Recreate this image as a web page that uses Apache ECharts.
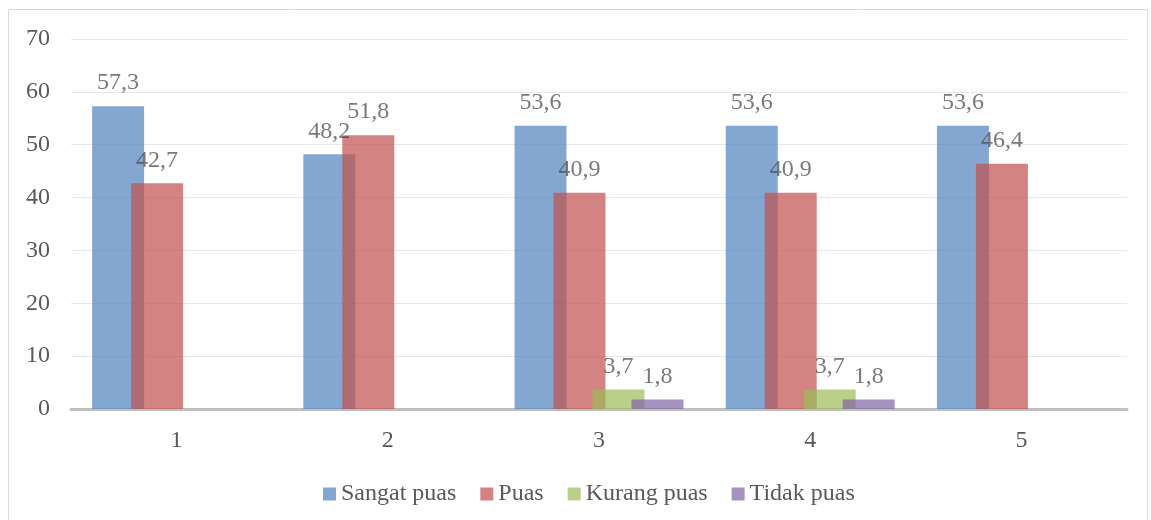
<!DOCTYPE html>
<html><head><meta charset="utf-8">
<script src="https://cdn.jsdelivr.net/npm/echarts@6/dist/echarts.min.js"></script>
<style>html,body{margin:0;padding:0;background:#fff;}#c{width:1151px;height:520px;}</style>
</head><body><div id="c"></div>
<script>
const categories = ['1','2','3','4','5'];
const sangatPuas = [57.3, 48.2, 53.6, 53.6, 53.6];
const puas = [42.7, 51.8, 40.9, 40.9, 46.4];
const kurangPuas = [null, null, 3.7, 3.7, null];
const tidakPuas = [null, null, 1.8, 1.8, null];
const yTicks = {min: 0, max: 70, interval: 10};

const font = 'Liberation Serif';
const chart = echarts.init(document.getElementById('c'));
function mk(name, data, color) {
  return {
    name, type: 'bar', data,
    barGap: '-25%', barCategoryGap: '20%',
    itemStyle: {color: color, opacity: 0.7},
    label: {show: true, position: 'top', distance: 11, fontFamily: font, fontSize: 24, color: '#404040',
      formatter: p => (p.value == null ? '' : String(p.value).replace('.', ','))}
  };
}
chart.setOption({
  animation: false,
  textStyle: {fontFamily: font},
  graphic: [{type: 'rect', shape: {x: 8.5, y: 9.5, width: 1139, height: 515}, style: {fill: 'none', stroke: '#d9d9d9', lineWidth: 1}, z: -1}],
  grid: {left: 71, right: 24, top: 39, bottom: 111},
  legend: {
    top: 477, left: 318, itemWidth: 13, itemHeight: 13, itemGap: 24, icon: 'rect',
    textStyle: {fontFamily: font, fontSize: 24, color: '#595959'},
    data: ['Sangat puas', 'Puas', 'Kurang puas', 'Tidak puas']
  },
  xAxis: {
    type: 'category', data: categories,
    axisLine: {lineStyle: {color: '#bfbfbf', width: 3}},
    axisTick: {show: false},
    axisLabel: {fontFamily: font, fontSize: 24, color: '#595959', margin: 20}
  },
  yAxis: {
    type: 'value', min: yTicks.min, max: yTicks.max, interval: yTicks.interval,
    axisLine: {show: false}, axisTick: {show: false},
    splitLine: {lineStyle: {color: '#e8e8e8', width: 1}},
    axisLabel: {fontFamily: font, fontSize: 24, color: '#595959', margin: 21}
  },
  series: [
    mk('Sangat puas', sangatPuas, '#4F81BD'),
    mk('Puas', puas, '#C0504D'),
    mk('Kurang puas', kurangPuas, '#9BBB59'),
    mk('Tidak puas', tidakPuas, '#8064A2')
  ]
});
</script></body></html>
